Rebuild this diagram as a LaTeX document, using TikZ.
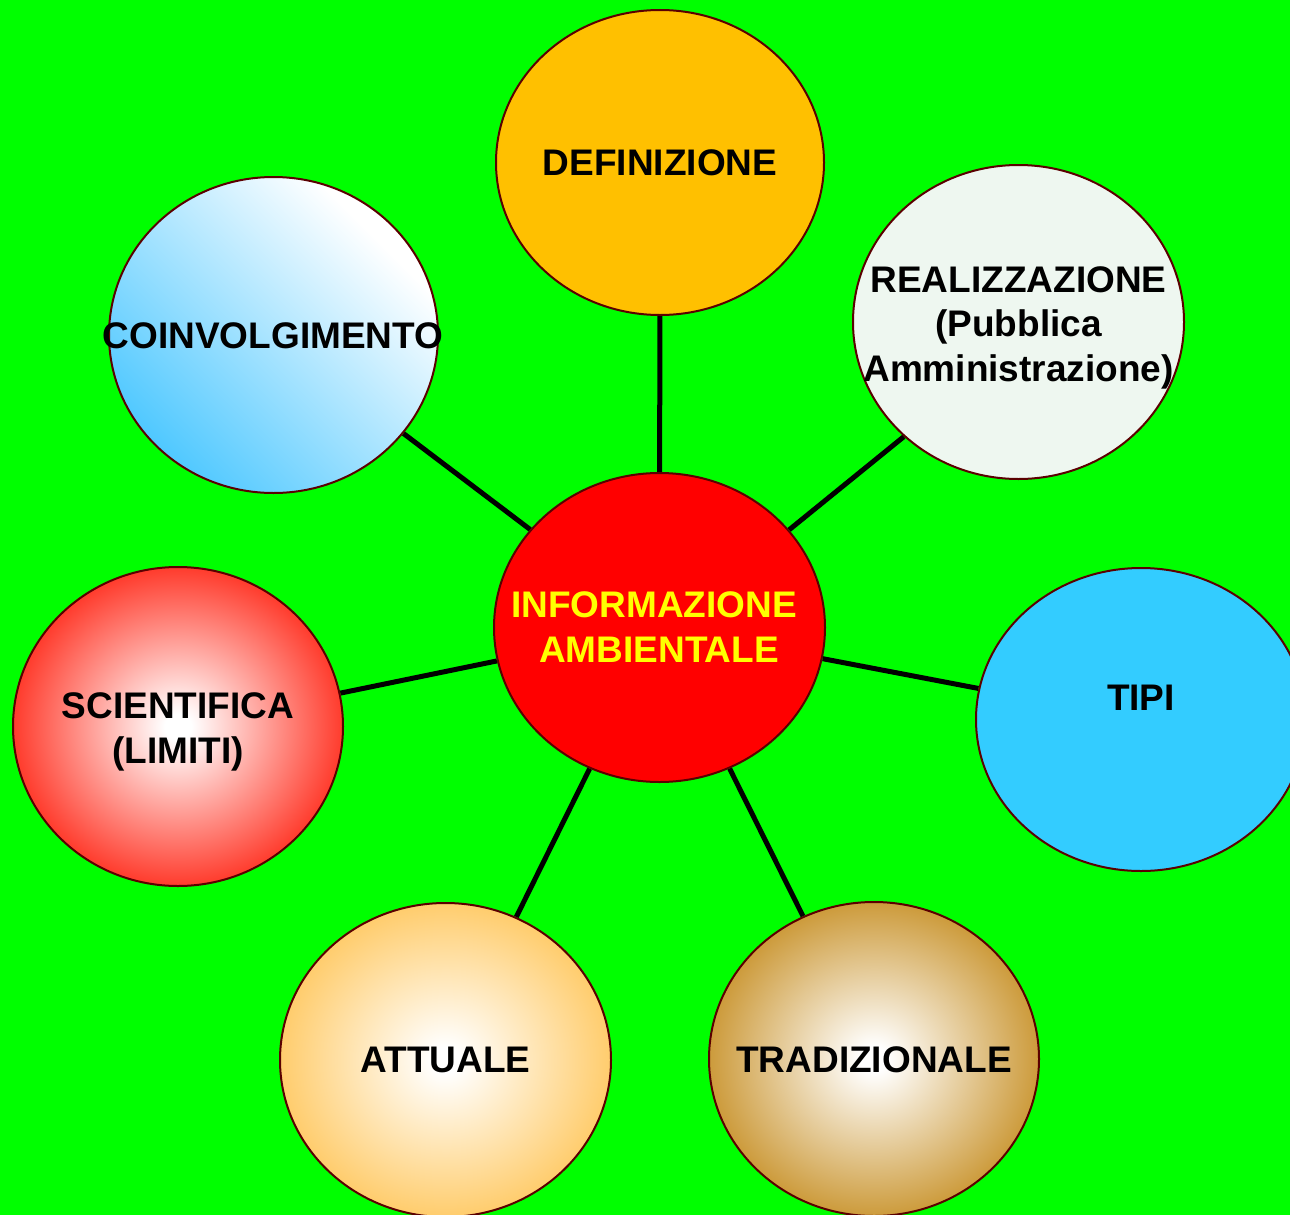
\documentclass[tikz,border=0pt]{standalone}
\usepackage{fontspec}
\setmainfont{Liberation Sans}
\usetikzlibrary{shapes.geometric,backgrounds}
\definecolor{bggreen}{HTML}{00FF00}
\definecolor{bord}{HTML}{5A0000}
\definecolor{defcol}{HTML}{FFC000}
\definecolor{realcol}{HTML}{EEF7F0}
\definecolor{tipicol}{HTML}{33CCFF}
\definecolor{coinblue}{HTML}{4FC8FF}
\definecolor{scired}{HTML}{FF2A1A}
\definecolor{attcol}{HTML}{FFC860}
\definecolor{tradcol}{HTML}{C8922A}
\pgfdeclareradialshading{sciShade}{\pgfpoint{0bp}{0bp}}{color(0bp)=(white); color(2bp)=(white); color(27bp)=(scired); color(75bp)=(scired)}
\pgfdeclareradialshading{attShade}{\pgfpoint{0bp}{0bp}}{color(0bp)=(white); color(2bp)=(white); color(27bp)=(attcol); color(75bp)=(attcol)}
\pgfdeclareradialshading{tradShade}{\pgfpoint{0bp}{0bp}}{color(0bp)=(white); color(2bp)=(white); color(27bp)=(tradcol); color(75bp)=(tradcol)}
\pgfdeclareverticalshading{coinShade}{100bp}{color(0bp)=(coinblue); color(25bp)=(coinblue); color(72bp)=(white); color(100bp)=(white)}
\tikzset{
  bubble/.style={ellipse, draw=bord, line width=2pt, inner sep=0pt},
  txt/.style={font=\bfseries\fontsize{37}{44.5}\selectfont, align=center, inner sep=0pt, text=black},
  conn/.style={draw=black, line width=5pt}
}
\begin{document}
\begin{tikzpicture}[x=1pt,y=-1pt]
\useasboundingbox (0,0) rectangle (1290,1215);
% bubbles
\node[bubble, fill=red, minimum width=331pt, minimum height=309pt] (c) at (659.5,627.5) {};
\node[bubble, fill=defcol, minimum width=328pt, minimum height=305pt] (def) at (660,162.5) {};
\node[bubble, shading=coinShade, shading angle=-45, minimum width=329pt, minimum height=316pt] (coin) at (273.5,335) {};
\node[bubble, fill=realcol, minimum width=331pt, minimum height=314pt] (real) at (1018.5,322) {};
\node[bubble, fill=tipicol, minimum width=330pt, minimum height=303pt] (tipi) at (1141,719.5) {};
\node[bubble, shading=sciShade, minimum width=330pt, minimum height=319pt] (sci) at (178,726.5) {};
\node[bubble, shading=attShade, minimum width=331pt, minimum height=314pt] (att) at (445.5,1060) {};
\node[bubble, shading=tradShade, minimum width=330pt, minimum height=314pt] (trad) at (874,1059) {};
% texts
\node[txt, text={rgb,255:red,255;green,255;blue,0}] (cT) at (659,627) {INFORMAZIONE\hspace*{10pt}\\AMBIENTALE};
\node[txt] (defT) at (660,163) {DEFINIZIONE};
\node[txt] (coinT) at (273,336) {COINVOLGIMENTO};
\node[txt] (realT) at (1018.5,327.5) {REALIZZAZIONE\\(Pubblica\\Amministrazione)};
\node[txt] (tipiT) at (1141,698) {TIPI};
\node[txt] (sciT) at (178,732) {SCIENTIFICA\\(LIMITI)};
\node[txt] (attT) at (445.5,1060) {ATTUALE};
\node[txt] (tradT) at (874,1060) {TRADIZIONALE};
% background and connectors
\begin{scope}[on background layer]
\fill[bggreen] (0,0) rectangle (1290,1215);
\draw[conn] (c) -- (def);
\draw[conn] (c) -- (coin);
\draw[conn] (c.37) -- (real.225);
\draw[conn] (c) -- (tipi);
\draw[conn] (c) -- (sci);
\draw[conn] (c) -- (att);
\draw[conn] (c) -- (trad);
\end{scope}
\end{tikzpicture}
\end{document}
